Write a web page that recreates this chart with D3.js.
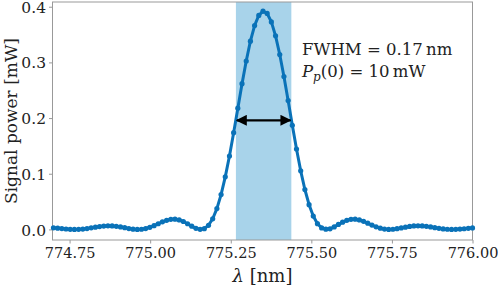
<!DOCTYPE html>
<html>
<head>
<meta charset="UTF-8">
<style>
  body { margin: 0; background: #fff; }
  svg text { font-family: "DejaVu Serif", serif; fill: #222; }
</style>
</head>
<body>
<script src="https://cdn.jsdelivr.net/npm/d3@7/dist/d3.min.js"></script>
<script>
// wavelength grid [nm]
var lambda = [
  774.700, 774.713, 774.726, 774.739, 774.752, 774.765, 774.778, 774.791, 774.804, 774.817,
  774.830, 774.843, 774.856, 774.869, 774.882, 774.895, 774.908, 774.921, 774.934, 774.947,
  774.960, 774.973, 774.986, 774.999, 775.012, 775.025, 775.038, 775.051, 775.064, 775.077,
  775.090, 775.103, 775.116, 775.129, 775.142, 775.155, 775.168, 775.181, 775.194, 775.207,
  775.220, 775.233, 775.246, 775.259, 775.272, 775.285, 775.298, 775.311, 775.324, 775.337,
  775.350, 775.363, 775.376, 775.389, 775.402, 775.415, 775.428, 775.441, 775.454, 775.467,
  775.480, 775.493, 775.506, 775.519, 775.532, 775.545, 775.558, 775.571, 775.584, 775.597,
  775.610, 775.623, 775.636, 775.649, 775.662, 775.675, 775.688, 775.701, 775.714, 775.727,
  775.740, 775.753, 775.766, 775.779, 775.792, 775.805, 775.818, 775.831, 775.844, 775.857,
  775.870, 775.883, 775.896, 775.909, 775.922, 775.935, 775.948, 775.961, 775.974, 775.987,
  776.000
];
// signal power [mW]
var power = [
  0.0028, 0.0022, 0.0015, 0.0008, 0.0002, 0.0000, 0.0001, 0.0007, 0.0016, 0.0028,
  0.0040, 0.0052, 0.0060, 0.0064, 0.0063, 0.0056, 0.0045, 0.0031, 0.0016, 0.0005,
  0.0000, 0.0003, 0.0016, 0.0038, 0.0068, 0.0102, 0.0136, 0.0164, 0.0181, 0.0184,
  0.0171, 0.0142, 0.0102, 0.0058, 0.0020, 0.0001, 0.0014, 0.0074, 0.0191, 0.0374,
  0.0626, 0.0944, 0.1319, 0.1738, 0.2177, 0.2618, 0.3025, 0.3382, 0.3662, 0.3844,
  0.3920, 0.3879, 0.3728, 0.3477, 0.3142, 0.2747, 0.2314, 0.1871, 0.1445, 0.1053,
  0.0717, 0.0444, 0.0240, 0.0103, 0.0027, 0.0004, 0.0011, 0.0045, 0.0089, 0.0131,
  0.0164, 0.0182, 0.0184, 0.0170, 0.0145, 0.0113, 0.0078, 0.0047, 0.0022, 0.0006,
  0.0000, 0.0003, 0.0013, 0.0026, 0.0041, 0.0053, 0.0062, 0.0065, 0.0062, 0.0055,
  0.0044, 0.0031, 0.0019, 0.0009, 0.0003, 0.0000, 0.0001, 0.0006, 0.0012, 0.0020,
  0.0026
];
var xTicks = [774.75, 775.00, 775.25, 775.50, 775.75, 776.00];
var yTicks = [0.0, 0.1, 0.2, 0.3, 0.4];
var fwhmBand = [775.266, 775.438];   // shaded FWHM region
var halfMax = 0.196;                 // arrow height

var width = 498, height = 287;
var plot = { left: 52.5, right: 472.5, top: 2, bottom: 240 };
var blue = "#0a72b8";
var serif = "'DejaVu Serif', serif";

var svg = d3.select("body").append("svg")
  .attr("width", width)
  .attr("height", height)
  .attr("font-family", serif);

var x = d3.scaleLinear().domain([774.697, 776.0]).range([plot.left, plot.right]);
var y = d3.scaleLinear().domain([-0.019, 0.4085]).range([plot.bottom, plot.top]);

// FWHM band
svg.append("rect")
  .attr("x", x(fwhmBand[0]))
  .attr("y", plot.top)
  .attr("width", x(fwhmBand[1]) - x(fwhmBand[0]))
  .attr("height", plot.bottom - plot.top)
  .attr("fill", "#a8d3ea");

// axes
var xAxis = d3.axisBottom(x).tickValues(xTicks).tickFormat(d3.format(".2f")).tickSize(3.5).tickPadding(4);
var yAxis = d3.axisLeft(y).tickValues(yTicks).tickFormat(d3.format(".1f")).tickSize(3.5).tickPadding(3);

var gx = svg.append("g").attr("transform", "translate(0," + plot.bottom + ")").call(xAxis);
var gy = svg.append("g").attr("transform", "translate(" + plot.left + ",0)").call(yAxis);
[gx, gy].forEach(function(g) {
  g.attr("font-family", serif).attr("font-size", 14.5);
  g.select(".domain").remove();
  g.selectAll(".tick line").attr("stroke", "#999");
  g.selectAll(".tick text").attr("fill", "#222");
});
gy.attr("font-size", 15.5);
gy.selectAll(".tick text").attr("dy", "0.36em");

// frame
svg.append("rect")
  .attr("x", plot.left).attr("y", plot.top)
  .attr("width", plot.right - plot.left).attr("height", plot.bottom - plot.top)
  .attr("fill", "none").attr("stroke", "#999").attr("stroke-width", 1);

// curve
var pts = lambda.map(function(l, i) { return [l, power[i]]; });
var line = d3.line().x(function(d) { return x(d[0]); }).y(function(d) { return y(d[1]); });
svg.append("path").datum(pts)
  .attr("d", line).attr("fill", "none").attr("stroke", blue)
  .attr("stroke-width", 3).attr("stroke-linejoin", "round");
svg.selectAll(".pt").data(pts).enter().append("circle")
  .attr("class", "pt")
  .attr("cx", function(d) { return x(d[0]); })
  .attr("cy", function(d) { return y(d[1]); })
  .attr("r", 2.6)
  .attr("fill", blue);

// double arrow at half maximum
var defs = svg.append("defs");
defs.append("marker").attr("id", "head").attr("viewBox", "0 0 10 10")
  .attr("refX", 9).attr("refY", 5).attr("markerWidth", 5).attr("markerHeight", 5)
  .attr("orient", "auto-start-reverse")
  .append("path").attr("d", "M0,0 L10,5 L0,10 Z").attr("fill", "#000");
svg.append("line")
  .attr("x1", x(fwhmBand[0]) + 1).attr("x2", x(fwhmBand[1]) - 1)
  .attr("y1", y(halfMax)).attr("y2", y(halfMax))
  .attr("stroke", "#000").attr("stroke-width", 2.2)
  .attr("marker-start", "url(#head)").attr("marker-end", "url(#head)");

// annotation
var ann = svg.append("g").attr("font-size", 16.5);
ann.append("text").attr("x", 302).attr("y", 55).text("FWHM = 0.17\u2009nm");
var t2 = ann.append("text").attr("x", 302).attr("y", 77);
t2.append("tspan").attr("font-style", "italic").text("P");
t2.append("tspan").attr("font-style", "italic").attr("font-size", 12).attr("dy", 4).text("p");
t2.append("tspan").attr("dy", -4).text("(0) = 10\u2009mW");

// axis labels
var xl = svg.append("text")
  .attr("x", (plot.left + plot.right) / 2).attr("y", 282)
  .attr("text-anchor", "middle").attr("font-size", 18);
xl.append("tspan").attr("font-style", "italic").text("\u03bb");
xl.append("tspan").text(" [nm]");
svg.append("text")
  .attr("transform", "translate(17," + ((plot.top + plot.bottom) / 2) + ") rotate(-90)")
  .attr("text-anchor", "middle").attr("font-size", 17)
  .text("Signal power [mW]");
</script>
</body>
</html>
